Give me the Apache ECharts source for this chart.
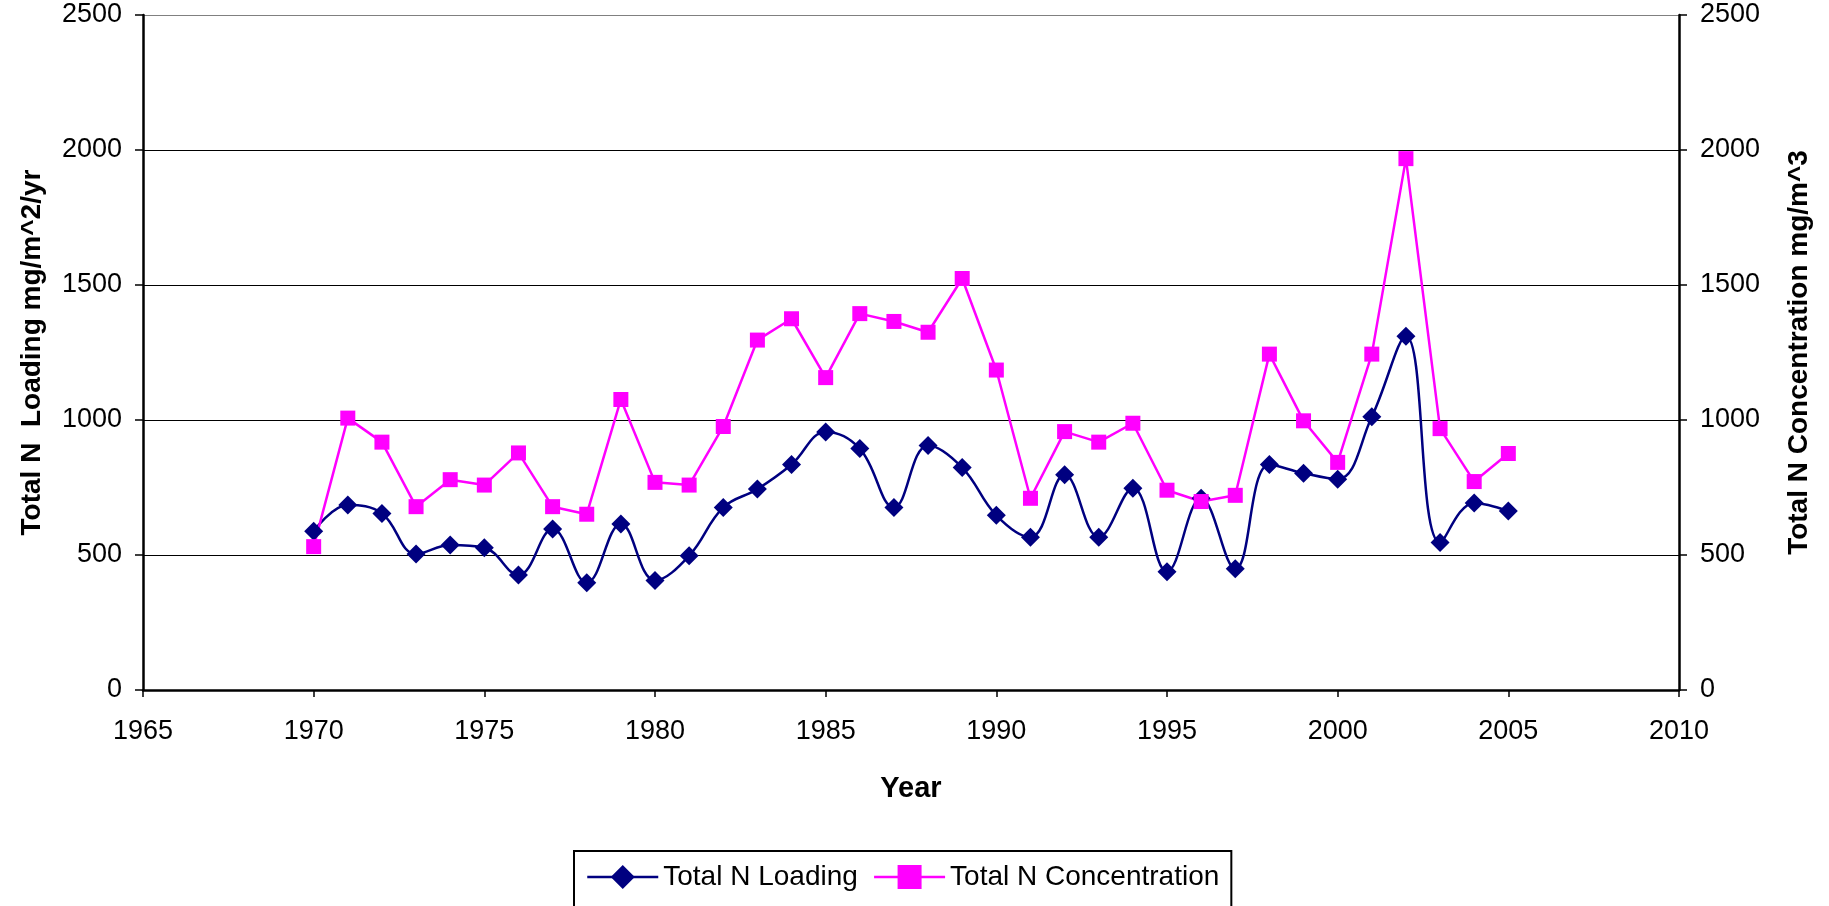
<!DOCTYPE html>
<html>
<head>
<meta charset="utf-8">
<title>Total N Loading / Concentration</title>
<script src="https://cdn.jsdelivr.net/npm/echarts@6/dist/echarts.min.js"></script>
<style>
    html, body {
        margin: 0;
        padding: 0;
        background: #fff;
    }
    #chart {
        width: 1829px;
        height: 906px;
    }
</style>
</head>
<body>
<div id="chart"></div>
<script>
// data, one value per year
const years = [
    1970, 1971, 1972, 1973, 1974, 1975, 1976, 1977, 1978, 1979,
    1980, 1981, 1982, 1983, 1984, 1985, 1986, 1987, 1988, 1989,
    1990, 1991, 1992, 1993, 1994, 1995, 1996, 1997, 1998, 1999,
    2000, 2001, 2002, 2003, 2004, 2005
];
const loading = [
    588, 685, 654, 504, 537, 527, 426, 596, 397, 615,
    406, 497, 676, 744, 835, 956, 894, 676, 906, 824,
    647, 566, 797, 566, 747, 438, 710, 449, 835, 803,
    781, 1012, 1310, 546, 693, 663
];
const concentration = [
    531, 1007, 918, 679, 779, 759, 878, 679, 651, 1076,
    769, 759, 976, 1296, 1375, 1157, 1394, 1365, 1325, 1524,
    1185, 710, 957, 918, 988, 740, 698, 721, 1244, 997,
    843, 1244, 1968, 968, 772, 876
];
const yearTicks = { min: 1965, max: 2010, step: 5 };
const valueTicks = { min: 0, max: 2500, step: 500 };

const myChart = echarts.init(document.getElementById('chart'));

const fontFamily = 'Arial, "Liberation Sans", sans-serif';
const toPairs = (arr) => years.map((y, i) => [y, arr[i]]);
// plain numbers, no thousands separator
const plain = (v) => String(v);

const valueAxis = (name, gap, showSplit) => {
    return {
        type: 'value',
        min: valueTicks.min,
        max: valueTicks.max,
        interval: valueTicks.step,
        name: name,
        nameLocation: 'middle',
        nameRotate: 90,
        nameGap: gap,
        nameTextStyle: {
            color: '#000',
            fontFamily: fontFamily,
            fontWeight: 'bold',
            fontSize: 28
        },
        axisLine: {
            show: true,
            lineStyle: { color: '#000', width: 2.5 }
        },
        axisTick: {
            show: true,
            length: 8,
            lineStyle: { color: '#000', width: 1.5 }
        },
        axisLabel: {
            color: '#000',
            fontFamily: fontFamily,
            fontSize: 27,
            margin: 21,
            formatter: plain
        },
        splitLine: {
            show: showSplit,
            lineStyle: {
                // last one is the grey line at the top of the plot
                color: ['#000', '#000', '#000', '#000', '#000', '#808080'],
                width: 1
            }
        }
    }
}

let option = {
    animation: false,
    backgroundColor: '#fff',
    grid: {
        left: 143,
        right: 150,
        top: 15,
        bottom: 216
    },
    legend: {
        left: 574,
        top: 851,
        orient: 'horizontal',
        borderColor: '#000',
        borderWidth: 2,
        padding: [12, 12, 40, 12],
        itemGap: 15,
        itemWidth: 71,
        itemHeight: 30,
        lineStyle: { width: 2.5 },
        textStyle: {
            color: '#000',
            fontFamily: fontFamily,
            fontSize: 28
        },
        data: ['Total N Loading', 'Total N Concentration']
    },
    xAxis: {
        type: 'value',
        min: yearTicks.min,
        max: yearTicks.max,
        interval: yearTicks.step,
        name: 'Year',
        nameLocation: 'middle',
        nameGap: 84,
        nameTextStyle: {
            color: '#000',
            fontFamily: fontFamily,
            fontWeight: 'bold',
            fontSize: 29
        },
        axisLine: {
            show: true,
            onZero: false,
            lineStyle: { color: '#000', width: 2.5 }
        },
        axisTick: {
            show: true,
            length: 7,
            lineStyle: { color: '#000', width: 1.5 }
        },
        axisLabel: {
            color: '#000',
            fontFamily: fontFamily,
            fontSize: 27,
            margin: 28,
            formatter: plain
        },
        splitLine: { show: false }
    },
    yAxis: [
        valueAxis('Total N  Loading mg/m^2/yr', 97, true),
        Object.assign(valueAxis('Total N Concentration mg/m^3', 106, false), { position: 'right' })
    ],
    series: [
        {
            name: 'Total N Loading',
            type: 'line',
            yAxisIndex: 0,
            smooth: 0.4,
            symbol: 'diamond',
            symbolSize: 19,
            itemStyle: { color: '#000080' },
            lineStyle: { color: '#000080', width: 2.5 },
            data: toPairs(loading)
        },
        {
            name: 'Total N Concentration',
            type: 'line',
            yAxisIndex: 1,
            symbol: 'rect',
            symbolSize: 15,
            itemStyle: { color: '#ff00ff' },
            lineStyle: { color: '#ff00ff', width: 2.5 },
            data: toPairs(concentration)
        }
    ]
};

myChart.setOption(option);
</script>
</body>
</html>
